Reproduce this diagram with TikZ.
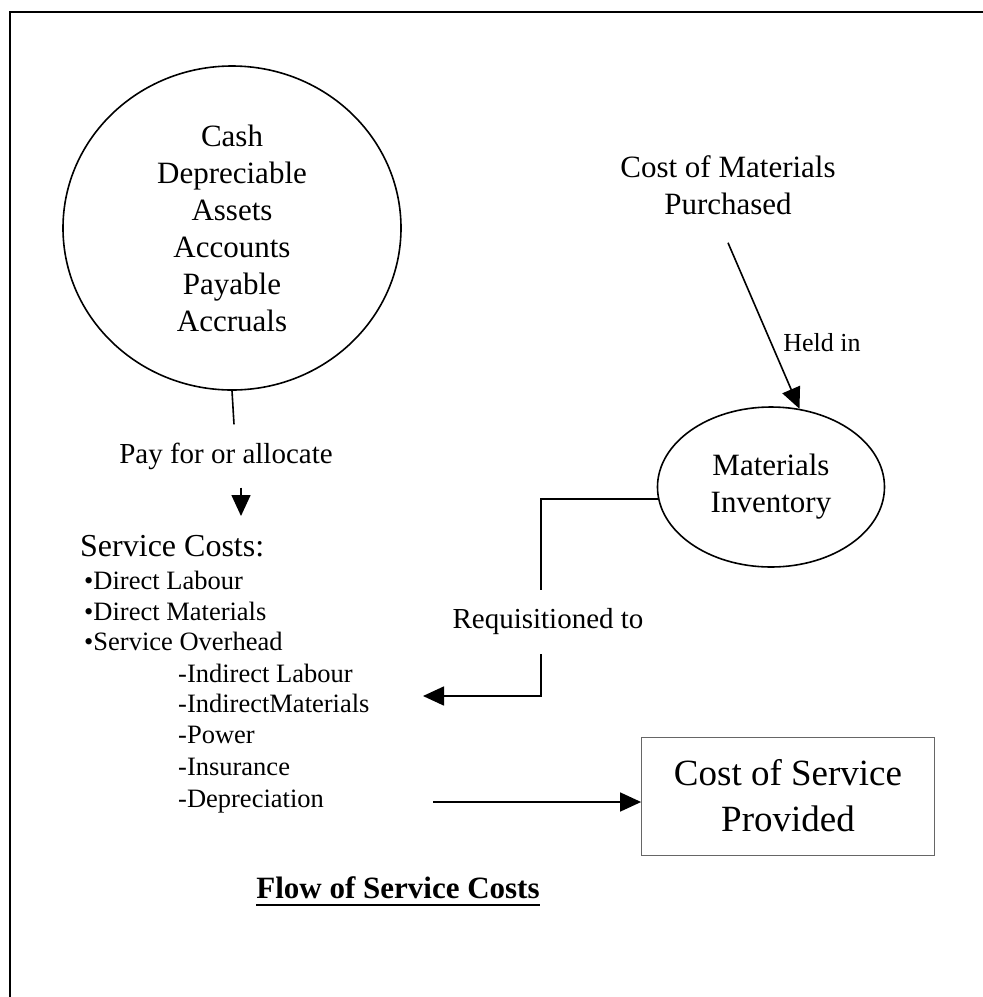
\documentclass[tikz,border=0pt]{standalone}
\usepackage{fontspec}
\setmainfont{Liberation Serif}
\usetikzlibrary{shapes.geometric,arrows.meta}

\begin{document}
\begin{tikzpicture}[x=1pt,y=-1pt,
  every node/.style={inner sep=0pt},
  flowline/.style={line width=1.6pt},
  flowarrow/.style={line width=1.6pt,-{Triangle[length=21pt,width=19pt]}},
  bigtext/.style={font=\fontsize{31}{37}\selectfont},
  lbl/.style={font=\fontsize{29}{35}\selectfont},
  smalllbl/.style={font=\fontsize{26}{31}\selectfont},
  item/.style={anchor=base west,font=\fontsize{26.5}{31}\selectfont},
  bubble/.style={draw,ellipse,line width=1.6pt,align=center,bigtext}
]
% page and bounding box
\fill[white] (0,0) rectangle (983,997);
\useasboundingbox (0,0) rectangle (983,997);

% frame: left and top rules
\draw[line width=2pt] (10,997) -- (10,12) -- (983,12);

% sources of service costs
\node[bubble,minimum width=338pt,minimum height=324pt] (assets) at (232,228)
  {Cash\\Depreciable\\Assets\\Accounts\\Payable\\Accruals};

\node[lbl,minimum height=63pt] (pay) at (226,456) {Pay for or allocate};
\draw[flowline] (assets.south) -- ([xshift=8pt]pay.north);
\coordinate (costsIn) at (241,516);
\draw[flowarrow] ([xshift=15pt]pay.south) -- (costsIn);

% service cost list
\node[anchor=base west,font=\fontsize{32}{38}\selectfont] (costs) at (80,556) {Service Costs:};
\node[item] (dl)  at (84,589) {•Direct Labour};
\node[item] (dm)  at (84,620) {•Direct Materials};
\node[item] (so)  at (84,650) {•Service Overhead};
\node[item] (il)  at (178,682) {-Indirect Labour};
\node[item] (im)  at (178,712) {-IndirectMaterials};
\node[item] (pw)  at (178,743) {-Power};
\node[item] (ins) at (178,775) {-Insurance};
\node[item] (dep) at (178,807) {-Depreciation};

% materials
\node[bigtext,align=center] (purch) at (728,185) {Cost of Materials\\Purchased};
\node[bubble,minimum width=227pt,minimum height=160pt] (inv) at (771,487)
  {Materials\\Inventory};
\draw[flowarrow] ([yshift=-28pt]purch.south) -- (inv.70);
\node[smalllbl] (held) at (822,343) {Held in};

\node[lbl,minimum height=64pt] (req) at (548,622) {Requisitioned to};
\draw[flowline] (inv.186) -| ([xshift=-7pt]req.north);
\coordinate (reqEnd) at (423,696);
\draw[flowarrow] ([xshift=-7pt]req.south) |- (reqEnd);

% outcome
\node[draw=black!60,line width=0.8pt,minimum width=293pt,minimum height=118pt,
  align=center,font=\fontsize{37}{46}\selectfont] (csp) at (788,796)
  {Cost of Service\\Provided};
\coordinate (depOut) at (433,802);
\draw[flowarrow] (depOut) -- (depOut -| csp.west);

% title
\node[anchor=base,font=\bfseries\fontsize{31}{37}\selectfont] (title) at (398,898)
  {Flow of Service Costs};
\draw[line width=2.5pt] ([yshift=-7pt]title.base west) -- ([yshift=-7pt]title.base east);
\end{tikzpicture}
\end{document}
